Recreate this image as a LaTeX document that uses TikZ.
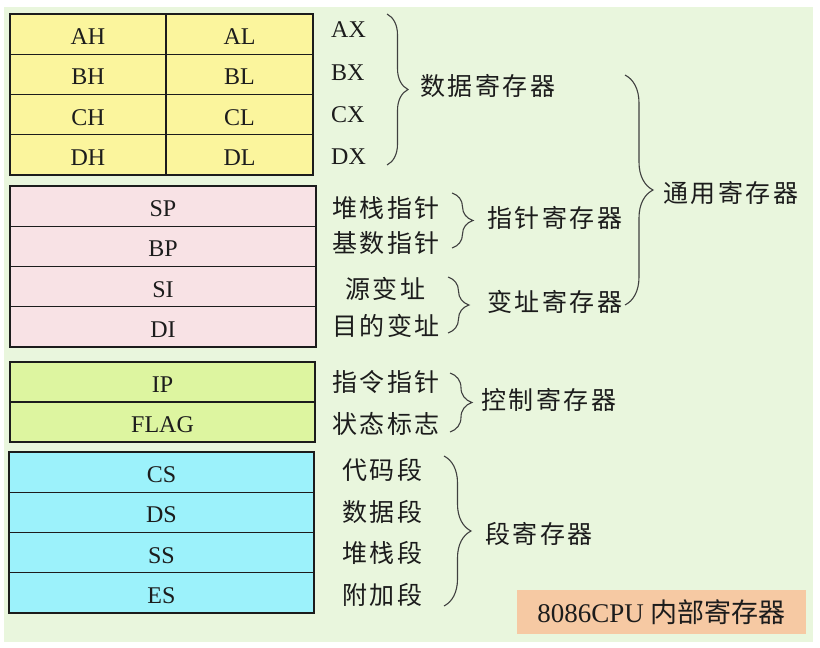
\documentclass[tikz,border=0pt]{standalone}
\usepackage{fontspec}
\setmainfont{Liberation Serif}
\newfontfamily\cjk[LetterSpace=10]{Noto Sans CJK SC}
\newfontfamily\cjktitle{Noto Sans CJK SC}
\usetikzlibrary{decorations.pathreplacing}

\definecolor{bggreen}{HTML}{E9F6DD}
\definecolor{datayellow}{HTML}{FBF59D}
\definecolor{ptrpink}{HTML}{F8E2E5}
\definecolor{ctrllime}{HTML}{DDF5A0}
\definecolor{segcyan}{HTML}{9CF2FB}
\definecolor{titlepeach}{HTML}{F6C9A3}
\definecolor{ink}{HTML}{1C1C1C}

\tikzset{
  cell/.style={draw=ink, line width=1.3pt, minimum height=40.25pt,
    inner sep=0pt, text=ink, text height=21pt, text depth=0pt,
    font=\fontsize{24}{26}\selectfont},
  tag/.style={anchor=west, inner sep=0pt, text=ink,
    font=\fontsize{24}{26}\selectfont},
  cn/.style={anchor=west, inner sep=0pt, text=ink,
    font=\cjk\fontsize{25}{27}\selectfont},
  brace/.style={decorate, decoration={brace, amplitude=#1},
    line width=1.1pt, draw=black!75}
}

\begin{document}
\begin{tikzpicture}[x=1pt, y=-1pt]

  %Canvas
  \useasboundingbox (0,0) rectangle (820,648);
  \fill [white] (0,0) rectangle (820,648);
  \fill [bggreen] (4,7) rectangle (813,642);

  %Data registers
  \node [cell, fill=datayellow, minimum width=156pt] (ah) at (88,34.1)  {AH};
  \node [cell, fill=datayellow, minimum width=147pt] (al) at (239.5,34.1) {AL};
  \node [cell, fill=datayellow, minimum width=156pt] (bh) at (88,74.4)  {BH};
  \node [cell, fill=datayellow, minimum width=147pt] (bl) at (239.5,74.4) {BL};
  \node [cell, fill=datayellow, minimum width=156pt] (ch) at (88,114.6) {CH};
  \node [cell, fill=datayellow, minimum width=147pt] (cl) at (239.5,114.6) {CL};
  \node [cell, fill=datayellow, minimum width=156pt] (dh) at (88,154.9) {DH};
  \node [cell, fill=datayellow, minimum width=147pt] (dl) at (239.5,154.9) {DL};

  \node [tag] (ax) at (331,30)  {AX};
  \node [tag] (bx) at (331,73)  {BX};
  \node [tag] (cx) at (331,115) {CX};
  \node [tag] (dx) at (331,157) {DX};

  \coordinate (dataTop) at (387,14);
  \coordinate (dataBot) at (387,165);
  \draw [brace=21pt] (dataTop) -- (dataBot);
  \node [cn] (data) at (420,86) {数据寄存器};

  %Pointer and index registers
  \node [cell, fill=ptrpink, minimum width=306pt] (sp) at (163,206.1) {SP};
  \node [cell, fill=ptrpink, minimum width=306pt] (bp) at (163,246.4) {BP};
  \node [cell, fill=ptrpink, minimum width=306pt] (si) at (163,286.6) {SI};
  \node [cell, fill=ptrpink, minimum width=306pt] (di) at (163,326.9) {DI};

  \node [cn] (spname) at (332,208) {堆栈指针};
  \node [cn] (bpname) at (332,243) {基数指针};
  \node [cn] (siname) at (345,289) {源变址};
  \node [cn] (diname) at (332,326) {目的变址};

  \coordinate (ptrTop) at (452,193);
  \coordinate (ptrBot) at (452,248);
  \draw [brace=21pt] (ptrTop) -- (ptrBot);
  \node [cn] (ptr) at (487,218) {指针寄存器};

  \coordinate (idxTop) at (448,277);
  \coordinate (idxBot) at (448,333);
  \draw [brace=21pt] (idxTop) -- (idxBot);
  \node [cn] (idx) at (487,302) {变址寄存器};

  %General purpose
  \coordinate (genTop) at (625,75);
  \coordinate (genBot) at (625,305);
  \draw [brace=28pt] (genTop) -- (genBot);
  \node [cn] (gen) at (663,193) {通用寄存器};

  %Control registers
  \node [cell, fill=ctrllime, minimum width=305pt, minimum height=40pt] (ip) at (162.5,382) {IP};
  \node [cell, fill=ctrllime, minimum width=305pt, minimum height=40pt] (flag) at (162.5,422) {FLAG};

  \node [cn] (ipname) at (332,382) {指令指针};
  \node [cn] (flagname) at (332,424) {状态标志};

  \coordinate (ctrlTop) at (450,373);
  \coordinate (ctrlBot) at (450,432);
  \draw [brace=22pt] (ctrlTop) -- (ctrlBot);
  \node [cn] (ctrl) at (481,400) {控制寄存器};

  %Segment registers
  \node [cell, fill=segcyan, minimum width=305pt] (cs) at (161.5,472.1) {CS};
  \node [cell, fill=segcyan, minimum width=305pt] (ds) at (161.5,512.4) {DS};
  \node [cell, fill=segcyan, minimum width=305pt] (ss) at (161.5,552.6) {SS};
  \node [cell, fill=segcyan, minimum width=305pt] (es) at (161.5,592.9) {ES};

  \node [cn] (csname) at (342,470) {代码段};
  \node [cn] (dsname) at (342,512) {数据段};
  \node [cn] (ssname) at (342,553) {堆栈段};
  \node [cn] (esname) at (342,595) {附加段};

  \coordinate (segTop) at (444,456);
  \coordinate (segBot) at (444,606);
  \draw [brace=27pt] (segTop) -- (segBot);
  \node [cn] (seg) at (485,534) {段寄存器};

  %Title
  \node [fill=titlepeach, minimum width=289pt, minimum height=44pt,
    inner sep=0pt, text=ink, font=\fontsize{27}{29}\selectfont]
    (title) at (661.5,612) {8086CPU {\cjktitle 内部寄存器}};

\end{tikzpicture}
\end{document}
